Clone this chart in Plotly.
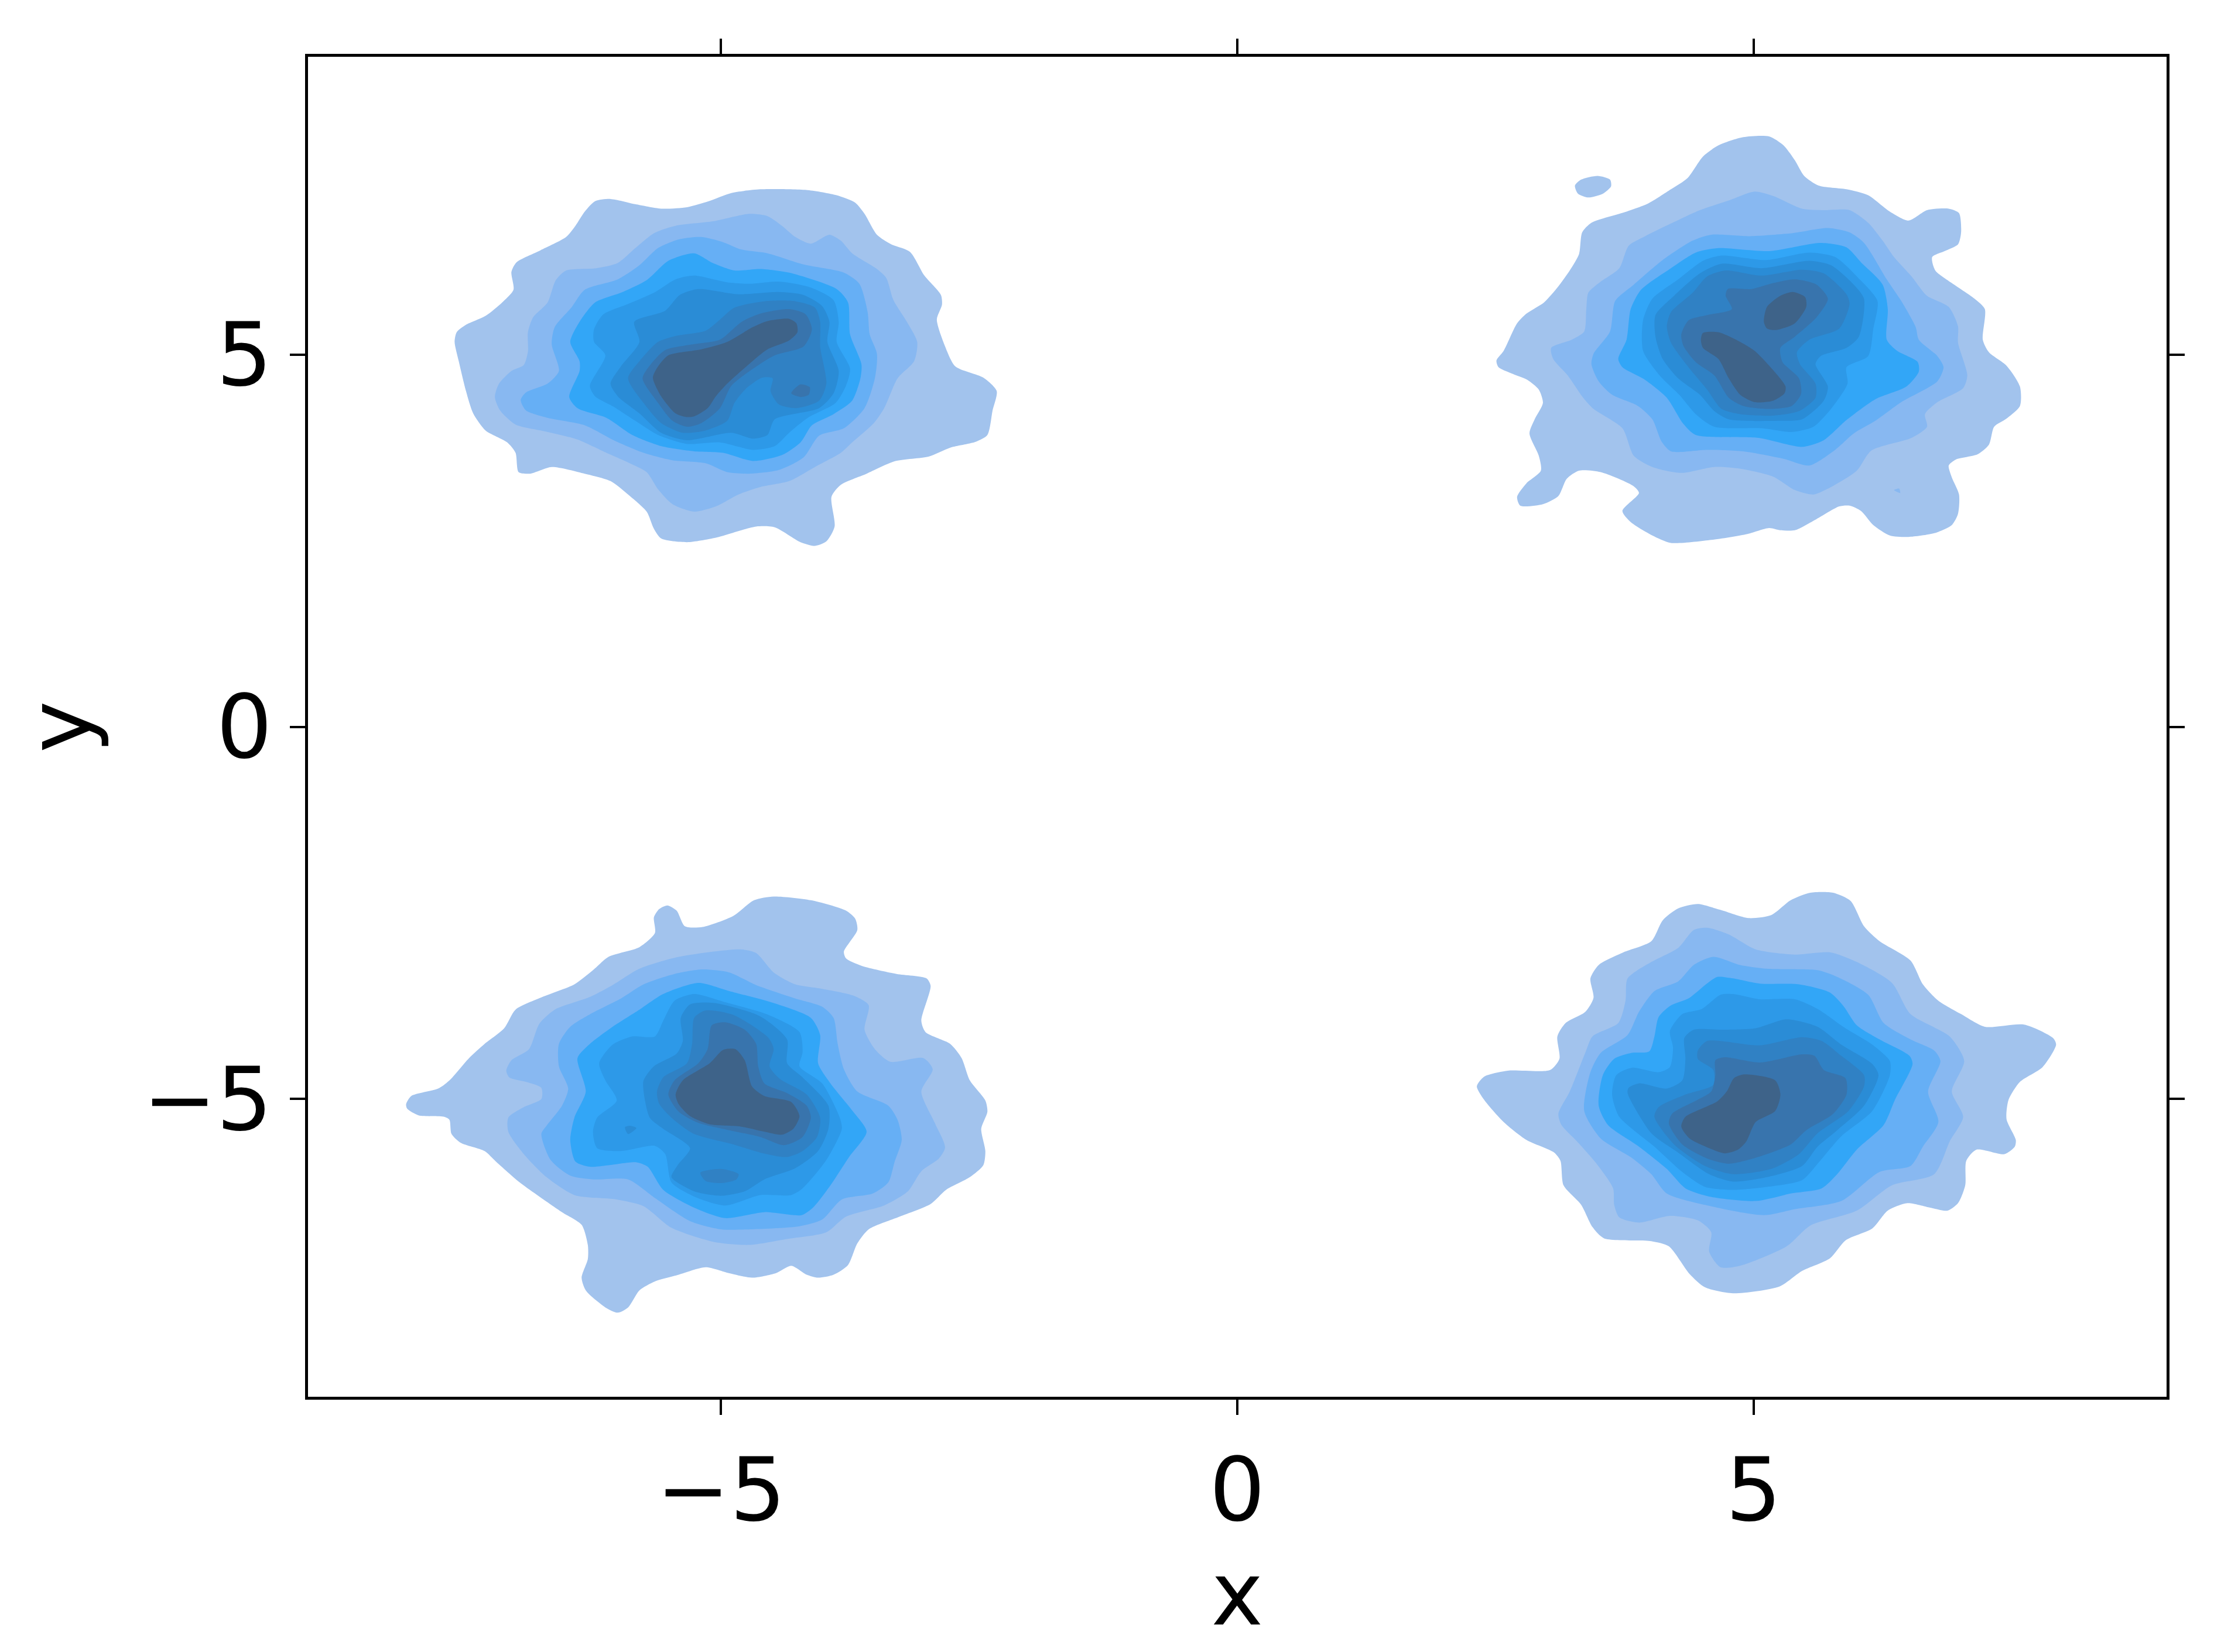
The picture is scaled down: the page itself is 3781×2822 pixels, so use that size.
import plotly.graph_objects as go

# contour outlines, in data units, one list per density level
level_colors = ["#A2C3ED", "#88B8F1", "#66AFF5", "#32A6F7", "#2D99E8", "#2A8CD6", "#3081C4", "#3874AD", "#3E6389"]
x_ticks = [-5, 0, 5]
y_ticks = [-5, 0, 5]

# top left blob
tl_1 = [(-7.58,5.17),(-7.56,5.30),(-7.47,5.40),(-7.28,5.52),(-7.12,5.70),(-7.01,5.87),(-7.03,6.11),(-6.98,6.24),(-6.75,6.40),(-6.50,6.58),(-6.41,6.73),(-6.32,6.92),(-6.22,7.06),(-6.07,7.09),(-5.83,7.02),(-5.58,6.96),(-5.33,6.98),(-5.12,7.06),(-4.90,7.17),(-4.62,7.22),(-4.16,7.21),(-3.88,7.14),(-3.70,7.04),(-3.61,6.89),(-3.49,6.61),(-3.35,6.48),(-3.17,6.38),(-3.03,6.06),(-2.87,5.80),(-2.86,5.67),(-2.91,5.47),(-2.83,5.11),(-2.73,4.84),(-2.46,4.69),(-2.33,4.51),(-2.37,4.25),(-2.42,3.92),(-2.53,3.83),(-2.78,3.75),(-2.99,3.63),(-3.31,3.57),(-3.59,3.40),(-3.84,3.25),(-3.93,3.09),(-3.90,2.69),(-3.98,2.49),(-4.09,2.43),(-4.23,2.48),(-4.48,2.68),(-4.66,2.69),(-5.05,2.54),(-5.33,2.48),(-5.58,2.53),(-5.65,2.66),(-5.72,2.89),(-5.90,3.12),(-6.07,3.30),(-6.32,3.40),(-6.64,3.49),(-6.85,3.40),(-6.96,3.42),(-6.99,3.68),(-7.07,3.82),(-7.28,3.98),(-7.40,4.21),(-7.47,4.51),(-7.54,4.91)]
tl_2 = [(-7.19,4.43),(-7.15,4.61),(-7.03,4.78),(-6.91,4.86),(-6.87,5.04),(-6.87,5.30),(-6.82,5.50),(-6.68,5.70),(-6.60,6.00),(-6.50,6.13),(-6.21,6.16),(-6.00,6.23),(-5.83,6.43),(-5.65,6.63),(-5.44,6.73),(-5.08,6.79),(-4.73,6.89),(-4.55,6.86),(-4.41,6.73),(-4.28,6.58),(-4.13,6.49),(-3.95,6.61),(-3.84,6.53),(-3.73,6.36),(-3.49,6.15),(-3.40,6.03),(-3.33,5.73),(-3.20,5.44),(-3.10,5.17),(-3.13,4.91),(-3.29,4.68),(-3.42,4.28),(-3.52,4.08),(-3.73,3.82),(-3.84,3.68),(-4.09,3.49),(-4.34,3.30),(-4.62,3.22),(-4.83,3.12),(-5.05,2.96),(-5.26,2.89),(-5.47,2.99),(-5.61,3.19),(-5.72,3.42),(-5.90,3.55),(-6.11,3.68),(-6.39,3.86),(-6.71,3.97),(-6.99,4.06),(-7.14,4.25)]
tl_3 = [(-6.94,4.39),(-6.89,4.49),(-6.68,4.61),(-6.57,4.78),(-6.64,5.14),(-6.61,5.37),(-6.45,5.63),(-6.32,5.87),(-6.00,6.01),(-5.79,6.20),(-5.61,6.43),(-5.40,6.55),(-5.19,6.58),(-4.98,6.51),(-4.80,6.41),(-4.55,6.36),(-4.20,6.21),(-3.81,6.10),(-3.66,5.95),(-3.58,5.57),(-3.56,5.27),(-3.49,5.01),(-3.51,4.68),(-3.61,4.28),(-3.81,4.01),(-4.05,3.91),(-4.20,3.62),(-4.44,3.45),(-4.73,3.40),(-4.94,3.42),(-5.15,3.54),(-5.47,3.58),(-5.75,3.68),(-6.04,3.85),(-6.32,4.05),(-6.68,4.15),(-6.89,4.25)]
tl_4 = [(-6.47,4.43),(-6.37,4.78),(-6.37,4.91),(-6.46,5.17),(-6.37,5.44),(-6.22,5.70),(-5.97,5.83),(-5.72,6.00),(-5.51,6.26),(-5.26,6.36),(-5.08,6.23),(-4.87,6.13),(-4.62,6.15),(-4.34,6.10),(-3.88,5.88),(-3.77,5.70),(-3.75,5.27),(-3.64,4.87),(-3.65,4.68),(-3.73,4.38),(-3.91,4.20),(-4.12,4.05),(-4.23,3.82),(-4.41,3.65),(-4.69,3.57),(-4.98,3.68),(-5.26,3.70),(-5.58,3.77),(-5.86,3.92),(-6.11,4.15),(-6.39,4.28)]
tl_5 = [(-6.27,4.58),(-6.12,4.99),(-6.23,5.17),(-6.23,5.34),(-6.14,5.54),(-5.90,5.68),(-5.65,5.83),(-5.44,6.01),(-5.26,6.06),(-4.94,5.97),(-4.73,5.95),(-4.44,5.98),(-4.13,5.90),(-3.91,5.73),(-3.86,5.44),(-3.88,5.17),(-3.75,4.81),(-3.79,4.58),(-3.89,4.35),(-4.16,4.15),(-4.34,3.95),(-4.48,3.77),(-4.69,3.72),(-5.01,3.82),(-5.33,3.80),(-5.61,3.92),(-5.83,4.11),(-6.04,4.30),(-6.22,4.44)]
tl_6 = [(-6.07,4.61),(-5.97,4.84),(-5.79,5.17),(-5.84,5.44),(-5.54,5.59),(-5.40,5.80),(-5.22,5.88),(-4.83,5.81),(-4.44,5.84),(-4.20,5.80),(-4.02,5.65),(-3.95,5.44),(-3.97,5.17),(-3.86,4.78),(-3.91,4.48),(-4.05,4.28),(-4.48,4.13),(-4.55,3.92),(-4.69,3.87),(-4.90,3.95),(-5.33,3.85),(-5.58,3.95),(-5.79,4.21),(-6.00,4.44)]
tl_7 = [(-5.90,4.68),(-5.79,4.91),(-5.61,5.17),(-5.44,5.25),(-5.15,5.32),(-5.01,5.47),(-4.87,5.63),(-4.55,5.72),(-4.30,5.72),(-4.09,5.63),(-4.04,5.44),(-4.04,5.11),(-3.98,4.61),(-4.05,4.38),(-4.27,4.28),(-4.44,4.33),(-4.52,4.51),(-4.50,4.68),(-4.60,4.69),(-4.76,4.54),(-4.87,4.35),(-4.94,4.11),(-5.15,3.98),(-5.37,3.95),(-5.58,4.08),(-5.75,4.35)]
tl_8 = [(-5.76,4.68),(-5.68,4.87),(-5.54,5.06),(-5.26,5.14),(-5.01,5.20),(-4.80,5.44),(-4.62,5.55),(-4.34,5.61),(-4.18,5.54),(-4.12,5.34),(-4.20,5.11),(-4.48,4.99),(-4.69,4.81),(-4.90,4.58),(-5.01,4.28),(-5.19,4.08),(-5.33,4.03),(-5.47,4.11),(-5.61,4.35)]
tl_8b = [(-4.32,4.48),(-4.23,4.60),(-4.14,4.56),(-4.15,4.46),(-4.23,4.43)]
tl_9 = [(-5.66,4.69),(-5.61,4.84),(-5.51,4.99),(-5.19,5.07),(-4.94,5.17),(-4.69,5.37),(-4.55,5.45),(-4.34,5.48),(-4.27,5.42),(-4.26,5.30),(-4.34,5.19),(-4.55,5.07),(-4.73,4.87),(-4.94,4.61),(-5.05,4.44),(-5.13,4.28),(-5.26,4.17),(-5.33,4.16),(-5.44,4.21),(-5.58,4.44)]

# top right blob
tr_1 = [(2.51,4.92),(2.58,5.05),(2.71,5.42),(2.80,5.55),(2.97,5.70),(3.10,5.90),(3.22,6.13),(3.31,6.35),(3.34,6.64),(3.43,6.77),(3.77,6.92),(3.98,7.03),(4.20,7.22),(4.36,7.37),(4.51,7.66),(4.66,7.81),(4.90,7.92),(5.15,7.93),(5.29,7.81),(5.40,7.61),(5.49,7.40),(5.63,7.27),(5.90,7.22),(6.11,7.14),(6.32,6.92),(6.50,6.80),(6.68,6.94),(6.89,6.96),(6.99,6.90),(7.01,6.64),(6.98,6.48),(6.85,6.39),(6.73,6.31),(6.76,6.13),(6.92,5.96),(7.14,5.75),(7.24,5.61),(7.22,5.20),(7.28,5.03),(7.45,4.85),(7.58,4.57),(7.58,4.31),(7.45,4.14),(7.33,4.03),(7.28,3.79),(7.17,3.66),(6.96,3.59),(6.89,3.51),(6.92,3.35),(6.99,3.12),(6.98,2.86),(6.92,2.71),(6.75,2.60),(6.50,2.55),(6.32,2.57),(6.16,2.71),(6.04,2.90),(5.93,2.97),(5.83,2.96),(5.61,2.79),(5.40,2.64),(5.26,2.64),(5.15,2.67),(4.94,2.59),(4.59,2.51),(4.20,2.47),(4.02,2.57),(3.81,2.75),(3.73,2.90),(3.89,3.14),(3.84,3.23),(3.52,3.42),(3.31,3.44),(3.19,3.33),(3.11,3.10),(2.96,2.99),(2.74,2.97),(2.71,3.09),(2.80,3.27),(2.94,3.44),(2.92,3.64),(2.83,3.94),(2.88,4.13),(2.96,4.35),(2.92,4.53),(2.81,4.66),(2.65,4.75),(2.53,4.83)]
tr_1b = [(3.27,7.27),(3.33,7.35),(3.49,7.40),(3.61,7.35),(3.62,7.26),(3.54,7.16),(3.40,7.11),(3.30,7.16)]
tr_2 = [(3.04,5.09),(3.24,5.20),(3.36,5.31),(3.38,5.61),(3.40,5.83),(3.52,5.98),(3.70,6.16),(3.79,6.46),(3.95,6.59),(4.20,6.76),(4.48,6.94),(4.76,7.07),(5.01,7.19),(5.19,7.13),(5.47,6.96),(5.68,6.94),(5.93,6.94),(6.11,6.77),(6.25,6.53),(6.36,6.31),(6.53,6.05),(6.68,5.79),(6.89,5.64),(6.98,5.38),(6.98,5.16),(7.07,4.72),(7.03,4.55),(6.78,4.36),(6.66,4.20),(6.68,4.03),(6.53,3.88),(6.14,3.71),(6.00,3.44),(5.75,3.22),(5.58,3.12),(5.40,3.18),(5.19,3.36),(4.90,3.46),(4.62,3.49),(4.30,3.41),(4.02,3.49),(3.84,3.64),(3.73,4.01),(3.45,4.27),(3.35,4.42),(3.20,4.72),(3.06,4.94)]
tr_2b = [(6.36,3.18),(6.41,3.20),(6.42,3.14)]
tr_3 = [(3.43,4.87),(3.45,5.01),(3.61,5.31),(3.66,5.72),(3.84,5.94),(4.12,6.27),(4.41,6.53),(4.59,6.61),(4.97,6.59),(5.37,6.63),(5.72,6.70),(5.93,6.64),(6.07,6.50),(6.29,6.01),(6.43,5.72),(6.57,5.37),(6.60,5.20),(6.78,4.98),(6.84,4.83),(6.78,4.64),(6.43,4.36),(6.18,4.11),(5.97,3.94),(5.79,3.72),(5.54,3.51),(5.29,3.60),(4.90,3.70),(4.55,3.72),(4.20,3.70),(4.11,3.83),(4.02,4.13),(3.88,4.31),(3.63,4.46),(3.50,4.64)]
tr_4 = [(3.69,4.94),(3.77,5.20),(3.81,5.61),(3.91,5.87),(4.20,6.16),(4.44,6.37),(4.66,6.43),(5.15,6.39),(5.65,6.50),(5.90,6.44),(6.04,6.24),(6.25,5.94),(6.30,5.61),(6.29,5.20),(6.39,5.05),(6.59,4.90),(6.60,4.77),(6.48,4.57),(6.18,4.40),(5.90,4.12),(5.68,3.85),(5.47,3.76),(5.05,3.88),(4.44,3.92),(4.32,4.07),(4.16,4.42),(3.95,4.66),(3.73,4.83)]
tr_5 = [(3.93,5.05),(3.93,5.46),(4.02,5.75),(4.27,6.01),(4.51,6.26),(4.69,6.33),(5.12,6.27),(5.54,6.37),(5.79,6.31),(6.00,6.05),(6.20,5.72),(6.16,5.35),(6.11,4.98),(5.90,4.83),(5.91,4.61),(5.75,4.27),(5.58,4.03),(5.37,3.96),(5.08,4.01),(4.62,4.03),(4.44,4.20),(4.28,4.46),(4.09,4.72)]
tr_6 = [(4.05,5.24),(4.05,5.53),(4.23,5.79),(4.48,6.09),(4.69,6.22),(5.08,6.16),(5.54,6.26),(5.75,6.20),(5.97,5.94),(6.07,5.75),(6.02,5.24),(5.90,5.09),(5.65,4.98),(5.60,4.87),(5.72,4.57),(5.68,4.38),(5.47,4.13),(5.26,4.11),(4.76,4.13),(4.62,4.24),(4.48,4.46),(4.27,4.68),(4.12,4.94)]
tr_7 = [(4.16,5.38),(4.20,5.57),(4.41,5.83),(4.55,6.05),(4.73,6.13),(5.08,6.06),(5.47,6.14),(5.68,6.09),(5.90,5.81),(5.93,5.68),(5.83,5.35),(5.54,5.20),(5.42,5.03),(5.45,4.87),(5.60,4.61),(5.60,4.42),(5.44,4.24),(5.19,4.18),(4.87,4.20),(4.69,4.27),(4.55,4.53),(4.37,4.83),(4.20,5.16)]
tr_8 = [(4.30,5.27),(4.37,5.46),(4.55,5.53),(4.79,5.61),(4.73,5.79),(4.75,5.88),(4.98,5.88),(5.19,5.96),(5.40,6.01),(5.61,5.94),(5.72,5.75),(5.61,5.50),(5.40,5.24),(5.26,5.09),(5.28,4.90),(5.44,4.68),(5.46,4.47),(5.37,4.31),(5.15,4.27),(4.90,4.31),(4.76,4.42),(4.62,4.72),(4.44,4.90),(4.32,5.12)]
tr_9 = [(5.10,5.44),(5.13,5.64),(5.26,5.79),(5.38,5.84),(5.50,5.77),(5.51,5.64),(5.40,5.42),(5.22,5.33),(5.13,5.35)]
tr_9b = [(4.49,5.20),(4.51,5.29),(4.66,5.30),(4.83,5.20),(5.01,5.05),(5.19,4.79),(5.31,4.57),(5.30,4.48),(5.19,4.38),(5.01,4.36),(4.87,4.46),(4.76,4.68),(4.66,4.94),(4.51,5.09)]

# bottom left blob
bl_1 = [(-8.05,-5.07),(-8.00,-4.96),(-7.74,-4.86),(-7.63,-4.75),(-7.44,-4.45),(-7.29,-4.26),(-7.10,-4.05),(-6.99,-3.80),(-6.73,-3.63),(-6.42,-3.46),(-6.24,-3.27),(-6.09,-3.09),(-5.79,-2.96),(-5.64,-2.77),(-5.65,-2.56),(-5.60,-2.45),(-5.52,-2.40),(-5.43,-2.47),(-5.35,-2.68),(-5.18,-2.69),(-4.88,-2.54),(-4.68,-2.33),(-4.49,-2.28),(-4.13,-2.33),(-3.79,-2.47),(-3.70,-2.58),(-3.68,-2.73),(-3.81,-3.02),(-3.79,-3.11),(-3.64,-3.21),(-3.30,-3.32),(-3.01,-3.38),(-2.97,-3.48),(-3.06,-3.95),(-3.02,-4.10),(-2.78,-4.26),(-2.67,-4.45),(-2.59,-4.75),(-2.44,-5.02),(-2.42,-5.17),(-2.48,-5.40),(-2.44,-5.70),(-2.46,-5.89),(-2.59,-6.05),(-2.82,-6.22),(-2.97,-6.41),(-3.27,-6.58),(-3.57,-6.75),(-3.68,-6.94),(-3.77,-7.23),(-3.91,-7.36),(-4.06,-7.40),(-4.17,-7.36),(-4.32,-7.24),(-4.47,-7.34),(-4.70,-7.40),(-4.92,-7.34),(-5.15,-7.26),(-5.41,-7.36),(-5.64,-7.45),(-5.79,-7.57),(-5.90,-7.80),(-6.00,-7.87),(-6.12,-7.80),(-6.31,-7.57),(-6.35,-7.40),(-6.29,-7.15),(-6.29,-6.96),(-6.35,-6.69),(-6.54,-6.52),(-6.76,-6.31),(-6.95,-6.12),(-7.18,-5.84),(-7.29,-5.70),(-7.52,-5.59),(-7.61,-5.47),(-7.63,-5.28),(-7.68,-5.24),(-7.93,-5.22),(-8.04,-5.13)]
bl_2 = [(-7.08,-4.62),(-7.03,-4.48),(-6.86,-4.33),(-6.76,-3.99),(-6.61,-3.80),(-6.27,-3.63),(-6.05,-3.47),(-5.79,-3.25),(-5.41,-3.09),(-4.81,-2.99),(-4.66,-3.04),(-4.49,-3.30),(-4.28,-3.46),(-4.02,-3.52),(-3.72,-3.61),(-3.57,-3.74),(-3.61,-4.07),(-3.51,-4.33),(-3.36,-4.50),(-3.04,-4.45),(-2.95,-4.60),(-3.06,-4.90),(-2.93,-5.32),(-2.83,-5.65),(-2.89,-5.80),(-3.06,-5.97),(-3.19,-6.24),(-3.42,-6.43),(-3.79,-6.58),(-3.98,-6.79),(-4.36,-6.88),(-4.73,-6.96),(-5.07,-6.92),(-5.48,-6.73),(-5.75,-6.44),(-6.01,-6.35),(-6.42,-6.29),(-6.69,-6.05),(-6.91,-5.74),(-7.06,-5.44),(-7.06,-5.25),(-6.91,-5.11),(-6.74,-5.00),(-6.74,-4.85),(-6.89,-4.77),(-7.05,-4.71)]
bl_3 = [(-6.74,-5.47),(-6.69,-5.36),(-6.54,-5.09),(-6.48,-4.86),(-6.57,-4.56),(-6.57,-4.26),(-6.46,-4.03),(-6.24,-3.84),(-5.97,-3.65),(-5.75,-3.46),(-5.45,-3.32),(-5.18,-3.26),(-4.92,-3.30),(-4.66,-3.47),(-4.28,-3.65),(-4.02,-3.76),(-3.91,-3.91),(-3.87,-4.26),(-3.81,-4.60),(-3.68,-4.90),(-3.38,-5.09),(-3.29,-5.28),(-3.25,-5.55),(-3.32,-5.85),(-3.38,-6.12),(-3.53,-6.27),(-3.83,-6.35),(-4.02,-6.62),(-4.24,-6.71),(-4.70,-6.75),(-5.00,-6.75),(-5.30,-6.64),(-5.64,-6.33),(-5.90,-6.08),(-6.24,-6.08),(-6.46,-6.03),(-6.65,-5.82)]
bl_4 = [(-6.46,-5.55),(-6.42,-5.25),(-6.31,-4.90),(-6.39,-4.45),(-6.27,-4.26),(-6.05,-4.03),(-5.79,-3.80),(-5.56,-3.59),(-5.22,-3.44),(-4.92,-3.55),(-4.47,-3.72),(-4.13,-3.91),(-4.04,-4.14),(-4.06,-4.52),(-3.94,-4.79),(-3.72,-5.17),(-3.59,-5.44),(-3.76,-5.78),(-3.94,-6.16),(-4.11,-6.46),(-4.22,-6.56),(-4.58,-6.52),(-4.96,-6.60),(-5.26,-6.46),(-5.56,-6.22),(-5.71,-5.91),(-5.82,-5.85),(-6.09,-5.89),(-6.27,-5.91),(-6.41,-5.84)]
bl_5 = [(-6.24,-5.44),(-6.20,-5.25),(-6.01,-5.02),(-6.12,-4.75),(-6.18,-4.52),(-6.05,-4.27),(-5.86,-4.16),(-5.64,-4.16),(-5.56,-3.95),(-5.45,-3.68),(-5.26,-3.59),(-4.96,-3.70),(-4.54,-3.87),(-4.24,-4.10),(-4.21,-4.37),(-4.24,-4.56),(-4.02,-4.79),(-3.85,-5.25),(-3.83,-5.40),(-3.98,-5.82),(-4.21,-6.20),(-4.32,-6.29),(-4.62,-6.29),(-4.96,-6.43),(-5.26,-6.31),(-5.48,-6.12),(-5.54,-5.74),(-5.64,-5.63),(-5.97,-5.70),(-6.20,-5.66)]
bl_6 = [(-5.75,-4.75),(-5.65,-4.56),(-5.43,-4.39),(-5.37,-4.22),(-5.39,-3.91),(-5.30,-3.73),(-5.07,-3.71),(-4.62,-3.89),(-4.36,-4.20),(-4.36,-4.52),(-4.21,-4.71),(-3.96,-5.09),(-3.96,-5.40),(-4.06,-5.70),(-4.28,-5.93),(-4.58,-6.08),(-4.77,-6.24),(-5.00,-6.30),(-5.26,-6.24),(-5.48,-6.05),(-5.42,-5.89),(-5.30,-5.66),(-5.56,-5.40),(-5.69,-5.25),(-5.75,-4.90)]
bl_6b = [(-5.93,-5.38),(-5.88,-5.36),(-5.82,-5.39),(-5.90,-5.47)]
bl_7 = [(-5.62,-4.90),(-5.56,-4.71),(-5.33,-4.52),(-5.28,-4.26),(-5.26,-3.91),(-5.15,-3.81),(-4.88,-3.87),(-4.54,-4.18),(-4.49,-4.33),(-4.53,-4.56),(-4.43,-4.73),(-4.17,-4.94),(-4.04,-5.25),(-4.07,-5.51),(-4.21,-5.70),(-4.36,-5.78),(-4.62,-5.72),(-4.88,-5.61),(-5.26,-5.47),(-5.48,-5.25),(-5.60,-5.06)]
bl_7b = [(-5.20,-5.99),(-5.00,-5.94),(-4.83,-6.01),(-4.85,-6.08),(-5.00,-6.13),(-5.15,-6.10)]
bl_8 = [(-5.51,-4.94),(-5.45,-4.75),(-5.22,-4.52),(-5.13,-4.33),(-5.09,-4.01),(-4.96,-3.97),(-4.77,-4.07),(-4.66,-4.26),(-4.64,-4.56),(-4.58,-4.79),(-4.36,-4.92),(-4.17,-5.09),(-4.13,-5.25),(-4.21,-5.51),(-4.39,-5.62),(-4.62,-5.51),(-4.92,-5.42),(-5.22,-5.32),(-5.41,-5.17)]
bl_9 = [(-5.44,-4.94),(-5.37,-4.75),(-5.11,-4.52),(-4.98,-4.34),(-4.86,-4.33),(-4.77,-4.48),(-4.70,-4.83),(-4.58,-4.96),(-4.32,-5.04),(-4.24,-5.23),(-4.30,-5.40),(-4.41,-5.48),(-4.58,-5.44),(-4.81,-5.37),(-5.11,-5.34),(-5.30,-5.23),(-5.41,-5.07)]

# bottom right blob
br_1 = [(2.32,-4.83),(2.39,-4.70),(2.62,-4.62),(3.03,-4.61),(3.12,-4.46),(3.10,-4.16),(3.18,-3.98),(3.37,-3.83),(3.45,-3.64),(3.42,-3.38),(3.50,-3.20),(3.74,-3.03),(4.01,-2.88),(4.12,-2.60),(4.27,-2.44),(4.46,-2.38),(4.68,-2.46),(4.95,-2.57),(5.17,-2.53),(5.36,-2.33),(5.55,-2.23),(5.77,-2.23),(5.94,-2.34),(6.07,-2.68),(6.22,-2.88),(6.52,-3.14),(6.64,-3.46),(6.79,-3.68),(7.01,-3.86),(7.24,-4.03),(7.62,-4.00),(7.90,-4.18),(7.93,-4.27),(7.80,-4.57),(7.58,-4.77),(7.47,-5.01),(7.45,-5.27),(7.54,-5.55),(7.53,-5.64),(7.43,-5.74),(7.16,-5.68),(7.06,-5.83),(7.05,-6.16),(6.98,-6.40),(6.88,-6.50),(6.71,-6.46),(6.49,-6.40),(6.30,-6.50),(6.15,-6.74),(5.89,-6.90),(5.74,-7.14),(5.47,-7.31),(5.25,-7.52),(4.80,-7.61),(4.53,-7.53),(4.38,-7.35),(4.18,-6.98),(4.01,-6.91),(3.55,-6.87),(3.44,-6.72),(3.33,-6.42),(3.16,-6.16),(3.13,-5.83),(3.07,-5.72),(2.80,-5.55),(2.58,-5.31),(2.39,-5.01)]
br_2 = [(3.11,-5.20),(3.22,-4.90),(3.37,-4.38),(3.44,-4.16),(3.69,-3.98),(3.76,-3.68),(3.78,-3.38),(4.01,-3.16),(4.27,-2.97),(4.42,-2.73),(4.55,-2.70),(4.76,-2.79),(5.02,-2.99),(5.40,-3.06),(5.74,-3.03),(6.00,-3.16),(6.34,-3.44),(6.52,-3.86),(6.90,-4.16),(7.04,-4.49),(6.92,-4.90),(7.03,-5.24),(6.90,-5.57),(6.75,-6.01),(6.34,-6.16),(6.00,-6.50),(5.55,-6.70),(5.32,-6.98),(4.87,-7.24),(4.68,-7.26),(4.57,-7.05),(4.59,-6.79),(4.46,-6.63),(4.19,-6.57),(3.89,-6.66),(3.70,-6.59),(3.65,-6.42),(3.64,-6.20),(3.48,-5.87),(3.29,-5.57),(3.14,-5.35)]
br_3 = [(3.36,-5.16),(3.42,-4.64),(3.52,-4.38),(3.78,-4.14),(3.89,-3.83),(4.04,-3.55),(4.27,-3.42),(4.42,-3.20),(4.61,-3.09),(4.87,-3.20),(5.13,-3.25),(5.62,-3.27),(5.81,-3.36),(6.11,-3.60),(6.26,-3.98),(6.52,-4.20),(6.75,-4.35),(6.81,-4.49),(6.69,-4.90),(6.79,-5.31),(6.64,-5.64),(6.52,-5.90),(6.22,-5.98),(5.85,-6.37),(5.40,-6.48),(5.10,-6.56),(4.65,-6.46),(4.16,-6.27),(4.01,-6.01),(3.82,-5.79),(3.52,-5.53)]
br_4 = [(3.50,-5.09),(3.54,-4.68),(3.65,-4.46),(3.82,-4.38),(3.99,-4.36),(4.04,-4.16),(4.08,-3.90),(4.19,-3.75),(4.38,-3.64),(4.53,-3.47),(4.65,-3.36),(4.80,-3.38),(5.06,-3.45),(5.44,-3.46),(5.74,-3.57),(5.87,-3.75),(6.00,-4.01),(6.22,-4.20),(6.51,-4.42),(6.54,-4.53),(6.37,-5.01),(6.26,-5.35),(6.00,-5.68),(5.81,-6.01),(5.66,-6.20),(5.36,-6.27),(5.02,-6.37),(4.57,-6.31),(4.34,-6.20),(4.16,-5.94),(3.89,-5.64),(3.59,-5.35)]
br_5 = [(3.63,-4.94),(3.67,-4.68),(3.82,-4.58),(4.08,-4.64),(4.19,-4.57),(4.22,-4.31),(4.19,-4.09),(4.31,-3.86),(4.50,-3.79),(4.68,-3.60),(4.80,-3.59),(5.06,-3.66),(5.40,-3.66),(5.62,-3.79),(5.89,-4.05),(6.15,-4.27),(6.32,-4.49),(6.32,-4.68),(6.15,-5.16),(5.85,-5.50),(5.62,-5.87),(5.47,-6.09),(5.13,-6.18),(4.80,-6.22),(4.53,-6.18),(4.31,-5.98),(4.04,-5.64),(3.70,-5.24)]
br_6 = [(3.78,-4.92),(3.79,-4.85),(3.89,-4.79),(4.16,-4.86),(4.31,-4.75),(4.34,-4.46),(4.33,-4.18),(4.42,-4.07),(4.72,-4.07),(5.02,-4.05),(5.32,-3.93),(5.62,-4.03),(5.85,-4.27),(6.15,-4.53),(6.21,-4.68),(6.07,-5.09),(5.81,-5.42),(5.62,-5.64),(5.47,-5.90),(5.13,-6.05),(4.80,-6.11),(4.57,-6.01),(4.27,-5.72),(4.01,-5.46)]
br_7 = [(4.04,-5.24),(4.08,-5.11),(4.34,-4.94),(4.61,-4.81),(4.61,-4.61),(4.46,-4.46),(4.46,-4.35),(4.55,-4.22),(5.06,-4.28),(5.47,-4.17),(5.66,-4.22),(5.85,-4.42),(6.07,-4.68),(6.07,-4.83),(5.92,-5.16),(5.62,-5.46),(5.44,-5.74),(5.17,-5.94),(4.80,-6.01),(4.53,-5.90),(4.23,-5.61)]
br_8 = [(4.18,-5.33),(4.21,-5.20),(4.46,-5.01),(4.59,-4.90),(4.63,-4.68),(4.63,-4.48),(4.72,-4.44),(5.06,-4.51),(5.47,-4.40),(5.59,-4.42),(5.68,-4.61),(5.89,-4.72),(5.90,-4.94),(5.77,-5.20),(5.51,-5.42),(5.36,-5.61),(5.02,-5.79),(4.76,-5.87),(4.57,-5.81),(4.31,-5.61)]
br_9 = [(4.30,-5.37),(4.34,-5.24),(4.65,-5.03),(4.74,-4.90),(4.81,-4.72),(4.91,-4.67),(5.21,-4.75),(5.26,-4.94),(5.21,-5.16),(5.02,-5.31),(4.93,-5.57),(4.85,-5.68),(4.72,-5.73),(4.57,-5.66),(4.38,-5.53)]

# (level, outline) in drawing order, lowest density first
layers = [
    (0, tl_1), (1, tl_2), (2, tl_3), (3, tl_4), (4, tl_5), (5, tl_6), (6, tl_7), (7, tl_8), (7, tl_8b), (8, tl_9),
    (0, tr_1), (0, tr_1b), (1, tr_2), (1, tr_2b), (2, tr_3), (3, tr_4), (4, tr_5), (5, tr_6), (6, tr_7), (7, tr_8), (8, tr_9), (8, tr_9b),
    (0, bl_1), (1, bl_2), (2, bl_3), (3, bl_4), (4, bl_5), (5, bl_6), (5, bl_6b), (6, bl_7), (6, bl_7b), (7, bl_8), (8, bl_9),
    (0, br_1), (1, br_2), (2, br_3), (3, br_4), (4, br_5), (5, br_6), (6, br_7), (7, br_8), (8, br_9),
]

fig = go.Figure()
for level, outline in layers:
    pts = outline + outline[:1]
    fig.add_trace(go.Scatter(
        x=[p[0] for p in pts], y=[p[1] for p in pts],
        mode="lines", fill="toself", fillcolor=level_colors[level],
        line=dict(width=0, shape="spline", smoothing=0.7, color=level_colors[level]),
        hoverinfo="skip", showlegend=False,
    ))

axis_style = dict(
    range=[-9, 9], showgrid=False, zeroline=False,
    showline=True, linecolor="black", linewidth=5, mirror="ticks",
    ticks="outside", ticklen=26, tickwidth=4, tickcolor="black",
    tickfont=dict(family="DejaVu Sans", size=150, color="black"),
    tickmode="array", automargin=False,
)
fig.update_xaxes(axis_style, tickvals=x_ticks, ticktext=["\u22125", "0", "5"],
                 title=dict(text="x", font=dict(family="DejaVu Sans", size=150, color="black"), standoff=40))
fig.update_yaxes(axis_style, tickvals=y_ticks, ticktext=["\u22125", "0", "5"],
                 title=dict(text="y", font=dict(family="DejaVu Sans", size=150, color="black"), standoff=40))
fig.update_layout(
    width=3781, height=2822,
    margin=dict(l=518, r=89, t=89, b=444),
    paper_bgcolor="white", plot_bgcolor="white",
)
fig.write_html("out.html")
